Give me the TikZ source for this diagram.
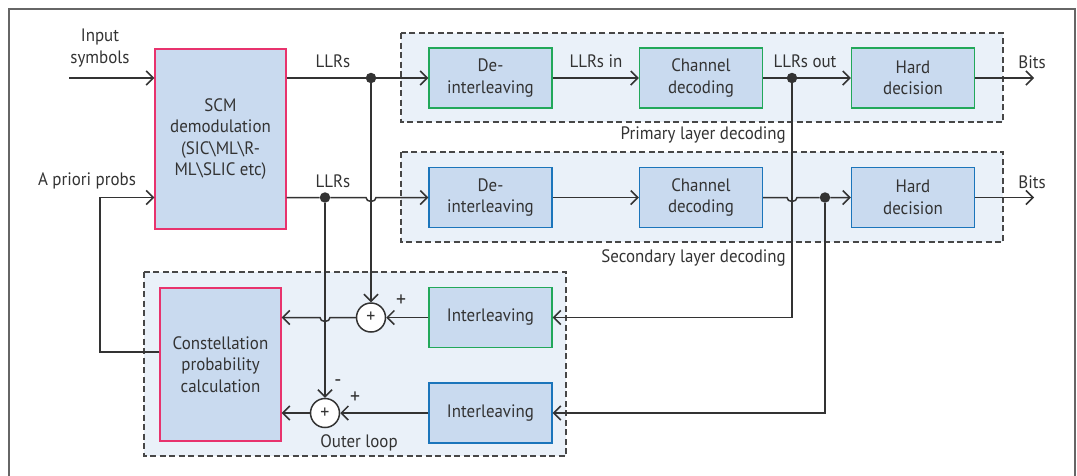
\documentclass[tikz,border=0pt]{standalone}
\usepackage{fontspec}
\setmainfont{PT Sans}[FakeStretch=0.94]
\usetikzlibrary{arrows.meta,calc}
\definecolor{ink}{HTML}{333333}
\definecolor{boxfill}{HTML}{C9DAEF}
\definecolor{zonefill}{HTML}{EAF1F9}
\definecolor{grn}{HTML}{22A85A}
\definecolor{blu}{HTML}{1B75BB}
\definecolor{pnk}{HTML}{E8336D}
\definecolor{frame}{HTML}{666666}
\tikzset{
  txt/.style={font=\fontsize{18}{21.5}\selectfont, text=ink, align=center, inner sep=0pt},
  blockbox/.style={txt, draw, line width=1.4pt, fill=boxfill, minimum width=123pt, minimum height=60pt},
  gbox/.style={blockbox, draw=grn},
  bbox/.style={blockbox, draw=blu},
  pbox/.style={blockbox, draw=pnk},
  zone/.style={draw=ink!90, fill=zonefill, line width=1.4pt, dash pattern=on 6pt off 3.5pt},
  wire/.style={draw=ink, line width=1.5pt},
  arr/.style={wire, -{Straight Barb[length=7pt,width=14pt,line width=1.5pt]}},
  junction/.style={circle, fill=ink, inner sep=0pt, minimum size=10.5pt},
  summer/.style={circle, draw=ink, line width=1.5pt, fill=white, minimum size=29pt, inner sep=0pt,
                 font=\fontsize{19}{19}\selectfont, text=ink},
  sgn/.style={txt, font=\fontsize{21}{21}\selectfont},
}
\begin{document}
\begin{tikzpicture}[x=1pt,y=-1pt]
\useasboundingbox (0,0) rectangle (1077,475);
% outer frame, open at the bottom
\begin{scope}
\clip (0,0) rectangle (1077,475);
\draw[frame, line width=1.6pt] (9,480) -- (9,9) -- (1075,9) -- (1075,480);
\end{scope}

% grouping zones
\path[zone] (401,33) rectangle (1003,122);
\path[zone] (401,152) rectangle (1003,242);
\path[zone] (144,272) rectangle (566,456);
\node[txt, anchor=east] (lblP) at (786,135) {Primary layer decoding};
\node[txt, anchor=east] (lblS) at (786,258) {Secondary layer decoding};
\node[txt] (lblO) at (359,443) {Outer loop};

% blocks
\node[pbox, minimum width=131pt, minimum height=180pt] (SCM) at (220.5,139)
  {SCM\\demodulation\\(SIC\textbackslash ML\textbackslash R-\\ML\textbackslash SLIC etc)};
\node[gbox] (PDe) at (490.5,78) {De-\\interleaving};
\node[gbox] (PCh) at (701,78) {Channel\\decoding};
\node[gbox] (PHd) at (913,78) {Hard\\decision};
\node[bbox] (SDe) at (490.5,197.5) {De-\\interleaving};
\node[bbox] (SCh) at (701,197.5) {Channel\\decoding};
\node[bbox] (SHd) at (913,197.5) {Hard\\decision};
\node[pbox, minimum width=121pt, minimum height=153pt] (Con) at (220.5,364.5)
  {Constellation\\probability\\calculation};
\node[gbox] (IlA) at (490.5,317.5) {Interleaving};
\node[bbox] (IlB) at (490.5,413) {Interleaving};
\node[summer] (SumA) at (371,317.5) {+};
\node[summer] (SumB) at (325,413) {+};

% free ends and labels
\coordinate (inp) at (69,78);
\coordinate (bitsP) at (1034,78);
\coordinate (bitsS) at (1034,197.5);
\node[txt] (tInp) at (100,48) {Input\\symbols};
\node[txt] (tApr) at (87,181) {A priori probs};
\node[txt] (tLLa) at (333,61) {LLRs};
\node[txt] (tLLb) at (333,181) {LLRs};
\node[txt] (tIn) at (596,61) {LLRs in};
\node[txt] (tOut) at (805,61) {LLRs out};
\node[txt] (tBa) at (1032,62) {Bits};
\node[txt] (tBb) at (1032,182) {Bits};
\node[sgn] (pA) at (401,301) {+};
\node[sgn] (mB) at (338,383) {-};
\node[sgn] (pB) at (355,398) {+};

% junction dots
\node[junction] (jA) at (371,78) {};
\node[junction] (jB) at (325,197.5) {};
\node[junction] (jC) at (792,78) {};
\node[junction] (jD) at (825,197.5) {};

% forward paths
\draw[arr] (inp) -- (inp -| SCM.west);
\draw[arr] (Con.west |- 0,352) -- (100,352) -- (100,197.5) -- (SCM.west |- 0,197.5);
\draw[arr] (SCM.east |- jA) -- (jA) -- (PDe.west);
\draw[arr] (SCM.east |- jB) -- (jB) -- (366,197.5) arc[start angle=180,end angle=0,x radius=5,y radius=4] -- (SDe.west);
\draw[arr] (PDe.east) -- (PCh.west);
\draw[arr] (PCh.east) -- (jC) -- (PHd.west);
\draw[arr] (PHd.east) -- (bitsP);
\draw[arr] (SDe.east) -- (SCh.west);
\draw[arr] (SCh.east) -- (787,197.5) arc[start angle=180,end angle=0,x radius=5,y radius=4] -- (jD) -- (SHd.west);
\draw[arr] (SHd.east) -- (bitsS);

% feedback paths
\draw[arr] (jC) |- (IlA.east);
\draw[arr] (jD) |- (IlB.east);
\draw[arr] (IlA.west) -- (SumA.east);
\draw[arr] (IlB.west) -- (SumB.east);
\draw[arr] (SumA.west) -- (330,317.5) arc[start angle=0,end angle=180,x radius=5,y radius=4] -- (Con.east |- SumA);
\draw[arr] (SumB.west) -- (Con.east |- SumB);
\draw[arr] (jA) -- (SumA.north);
\draw[arr] (jB) -- (SumB.north);
\end{tikzpicture}
\end{document}
